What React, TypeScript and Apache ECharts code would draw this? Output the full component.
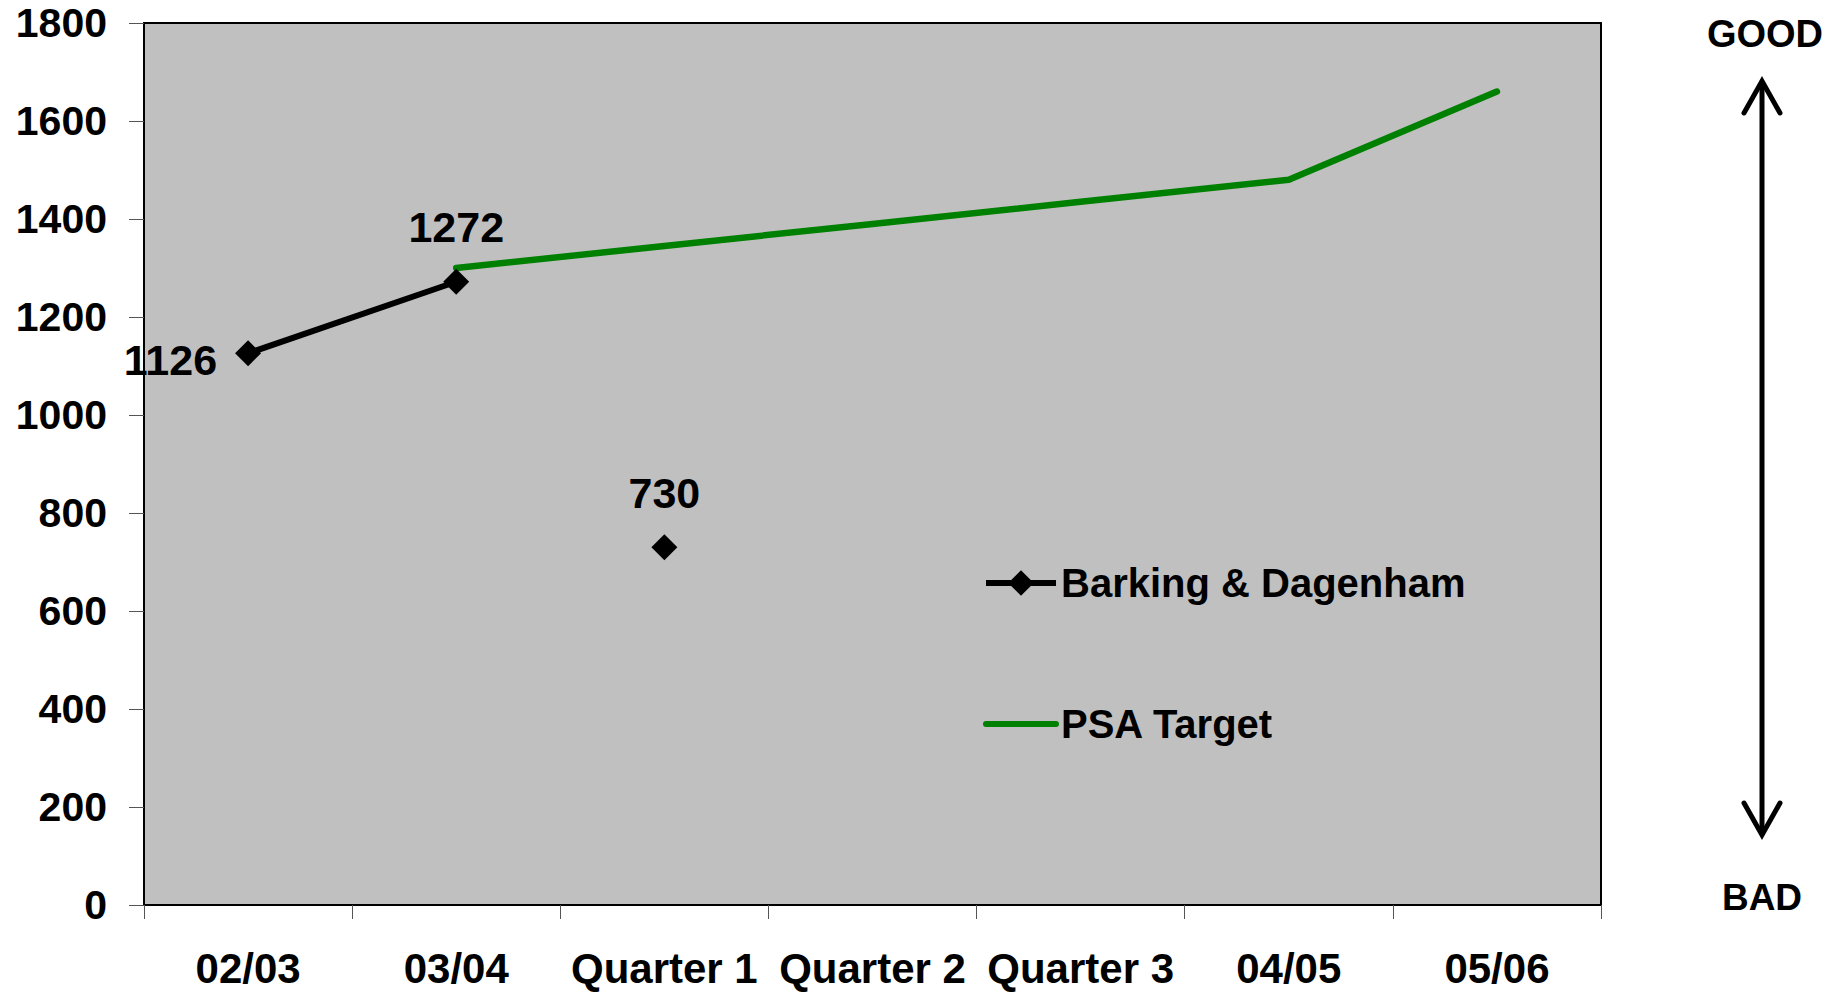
import React, { useEffect, useRef } from "react";
import * as echarts from "echarts";

const categories = ["02/03", "03/04", "Quarter 1", "Quarter 2", "Quarter 3", "04/05", "05/06"];
const barkingLine = [1126, 1272, null, null, null, null, null];
const barkingQuarter = [null, null, 730, null, null, null, null];
const psaTarget = [null, 1300, 1345, 1390, 1435, 1480, 1660];
const yTicks = { min: 0, max: 1800, interval: 200 };

const FONT = "Liberation Sans, Arial, sans-serif";

export default function App() {
  const ref = useRef<HTMLDivElement>(null);
  useEffect(() => {
    if (!ref.current) return;
    const chart = echarts.init(ref.current, undefined, { renderer: "svg" });
    const labelBase = {
      show: true,
      fontFamily: FONT,
      fontWeight: "bold",
      fontSize: 43,
      color: "#000",
    };
    const lineData = barkingLine.map((v, i) =>
      v == null
        ? null
        : i === 0
        ? { value: v, label: { ...labelBase, position: "left", distance: 18, offset: [0, 7] } }
        : { value: v, label: { ...labelBase, position: "top", distance: 20 } }
    );
    const quarterData = barkingQuarter.map((v) =>
      v == null ? null : { value: v, label: { ...labelBase, position: "top", distance: 20 } }
    );
    chart.setOption({
      animation: false,
      textStyle: { fontFamily: FONT },
      grid: {
        left: 144,
        top: 23,
        right: 237,
        bottom: 88,
        show: true,
        backgroundColor: "#c0c0c0",
        borderColor: "#000",
        borderWidth: 2,
      },
      legend: {
        orient: "vertical",
        left: 978,
        top: 555,
        itemWidth: 70,
        itemHeight: 32,
        itemGap: 95,
        lineStyle: { width: 6 },
        data: [
          { name: "Barking & Dagenham" },
          { name: "PSA Target", itemStyle: { opacity: 0 } },
        ],
        textStyle: {
          fontFamily: FONT,
          fontWeight: "bold",
          fontSize: 40,
          lineHeight: 46,
          color: "#000",
        },
      },
      xAxis: {
        type: "category",
        data: categories,
        boundaryGap: true,
        axisLine: { lineStyle: { color: "#000", width: 2 } },
        axisTick: { show: true, length: 14, lineStyle: { color: "#555", width: 1 } },
        axisLabel: {
          margin: 45,
          fontFamily: FONT,
          fontWeight: "bold",
          fontSize: 42,
          lineHeight: 36,
          color: "#000",
          interval: 0,
        },
        splitLine: { show: false },
      },
      yAxis: {
        type: "value",
        min: yTicks.min,
        max: yTicks.max,
        interval: yTicks.interval,
        axisLine: { show: true, lineStyle: { color: "#000", width: 2 } },
        axisTick: { show: true, length: 15, lineStyle: { color: "#555", width: 1 } },
        axisLabel: {
          margin: 37,
          fontFamily: FONT,
          fontWeight: "bold",
          fontSize: 41,
          lineHeight: 40,
          color: "#000",
          formatter: (v: number) => String(v),
        },
        splitLine: { show: false },
      },
      series: [
        {
          name: "Barking & Dagenham",
          type: "line",
          data: lineData,
          symbol: "diamond",
          symbolSize: 26,
          showAllSymbol: true,
          itemStyle: { color: "#000" },
          lineStyle: { color: "#000", width: 6 },
          z: 3,
        },
        {
          name: "Barking & Dagenham",
          type: "line",
          data: quarterData,
          symbol: "diamond",
          symbolSize: 26,
          itemStyle: { color: "#000" },
          lineStyle: { width: 0 },
          z: 3,
        },
        {
          name: "PSA Target",
          type: "line",
          data: psaTarget,
          symbol: "circle",
          showSymbol: false,
          itemStyle: { color: "#008000" },
          lineStyle: { color: "#008000", width: 6.5, cap: "round" },
          z: 2,
        },
      ],
      graphic: [
        {
          type: "text",
          x: 1765,
          y: 34,
          style: {
            text: "GOOD",
            fontFamily: FONT,
            fontWeight: "bold",
            fontSize: 38,
            fill: "#000",
            align: "center",
            verticalAlign: "middle",
          },
        },
        {
          type: "text",
          x: 1762,
          y: 897,
          style: {
            text: "BAD",
            fontFamily: FONT,
            fontWeight: "bold",
            fontSize: 37,
            fill: "#000",
            align: "center",
            verticalAlign: "middle",
          },
        },
        {
          type: "line",
          shape: { x1: 1762, y1: 82, x2: 1762, y2: 834 },
          style: { stroke: "#000", lineWidth: 5 },
        },
        {
          type: "polyline",
          shape: { points: [[1744, 113], [1762, 81], [1780, 113]] },
          style: { stroke: "#000", lineWidth: 5, fill: null, lineCap: "round", lineJoin: "miter" },
        },
        {
          type: "polyline",
          shape: { points: [[1744, 803], [1762, 835], [1780, 803]] },
          style: { stroke: "#000", lineWidth: 5, fill: null, lineCap: "round", lineJoin: "miter" },
        },
      ],
    });
    return () => chart.dispose();
  }, []);
  return (
    <div
      ref={ref}
      style={{ position: "fixed", left: 0, top: 0, width: 1838, height: 993, background: "#fff" }}
    />
  );
}
